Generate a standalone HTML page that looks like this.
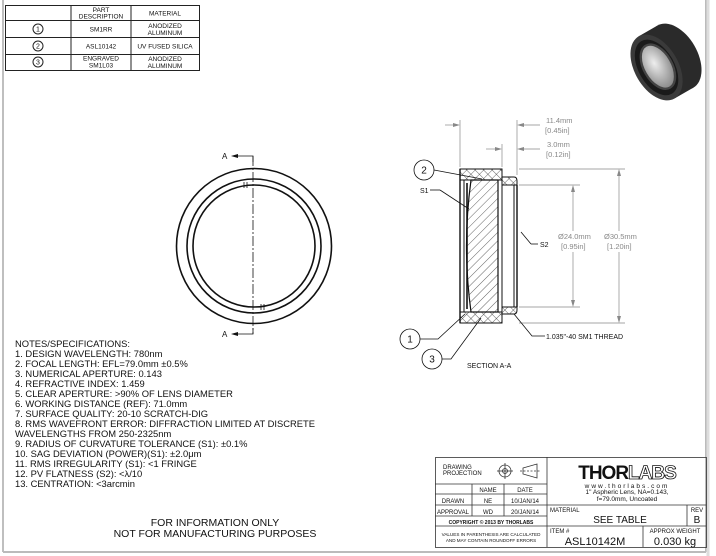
<!DOCTYPE html>
<html><head><meta charset="utf-8"><style>
html,body{margin:0;padding:0;background:#fff;width:716px;height:556px;overflow:hidden}
svg{display:block}
text{font-family:"Liberation Sans",sans-serif;fill:#111}
</style></head><body>
<svg width="716" height="556" viewBox="0 0 716 556" xmlns="http://www.w3.org/2000/svg">
<defs>
<pattern id="hatch" width="6" height="6" patternUnits="userSpaceOnUse" patternTransform="rotate(45)">
<line x1="0" y1="0" x2="0" y2="6" stroke="#222" stroke-width="0.7"/></pattern>
<pattern id="xh" width="6" height="6" patternUnits="userSpaceOnUse" patternTransform="rotate(45)">
<line x1="0" y1="0" x2="0" y2="6" stroke="#222" stroke-width="0.7"/><line x1="0" y1="0" x2="6" y2="0" stroke="#222" stroke-width="0.7"/></pattern>
<radialGradient id="rg" cx="0.45" cy="0.4" r="0.6"><stop offset="0" stop-color="#eee"/><stop offset="1" stop-color="#888"/></radialGradient>
</defs>
<rect x="0" y="0" width="716" height="556" fill="#fff"/>
<line x1="3" y1="0" x2="3" y2="552" stroke="#aaa" stroke-width="1.5"/>
<line x1="706" y1="0" x2="706" y2="552" stroke="#bbb" stroke-width="2"/>
<line x1="3" y1="552" x2="706" y2="552" stroke="#bbb" stroke-width="2"/>
<line x1="708" y1="0" x2="708" y2="556" stroke="#ddd" stroke-width="3"/>

<!-- parts table -->
<g stroke="#222" stroke-width="1" fill="none">
<rect x="5.5" y="5.5" width="194" height="65"/>
<line x1="71" y1="5" x2="71" y2="70"/><line x1="131" y1="5" x2="131" y2="70"/>
<line x1="5" y1="20.5" x2="199" y2="20.5"/><line x1="5" y1="37.5" x2="199" y2="37.5"/><line x1="5" y1="54.5" x2="199" y2="54.5"/>
<circle cx="38" cy="29" r="5"/><circle cx="38" cy="46" r="5"/><circle cx="38" cy="62" r="5"/>
</g>
<g font-size="6.5" text-anchor="middle">
<text x="101" y="12">PART</text><text x="101" y="18.5">DESCRIPTION</text><text x="165" y="15.5">MATERIAL</text>
<text x="38" y="31.5" font-size="7">1</text><text x="38" y="48.5" font-size="7">2</text><text x="38" y="64.5" font-size="7">3</text>
<text x="101" y="31.5">SM1RR</text><text x="165" y="28">ANODIZED</text><text x="165" y="35">ALUMINUM</text>
<text x="101" y="48.5">ASL10142</text><text x="165" y="48.5">UV FUSED SILICA</text>
<text x="101" y="60.5">ENGRAVED</text><text x="101" y="67.5">SM1L03</text><text x="165" y="61">ANODIZED</text><text x="165" y="68">ALUMINUM</text>
</g>

<!-- photo -->
<g transform="translate(666,62) rotate(-30) scale(0.78)">
<ellipse cx="14" cy="0" rx="28" ry="46" fill="#2a2a2a"/>
<rect x="-14" y="-46" width="28" height="92" fill="#2a2a2a"/>
<ellipse cx="-14" cy="0" rx="28" ry="46" fill="#3a3a3a"/>
<ellipse cx="-14" cy="0" rx="23" ry="39" fill="#1a1a1a"/>
<ellipse cx="-12" cy="0" rx="18" ry="31" fill="url(#rg)" stroke="#444" stroke-width="3"/>
</g>

<!-- front view -->
<g stroke="#111" stroke-width="1.6" fill="none">
<circle cx="254" cy="246" r="77.5"/>
<circle cx="254" cy="246" r="67"/>
<circle cx="254" cy="246" r="61"/>
</g>
<g stroke="#111" stroke-width="0.8" fill="none">
<line x1="244" y1="182" x2="244" y2="188"/><line x1="247" y1="182" x2="247" y2="188"/>
<line x1="261" y1="304" x2="261" y2="310"/><line x1="264" y1="304" x2="264" y2="310"/>
<line x1="253" y1="156" x2="253" y2="334" stroke-dasharray="10,2,2,2"/>
<polyline points="236,156 253,156 253,162"/><polyline points="236,334 253,334 253,328"/>
</g>
<polygon points="231,156 238,154 238,158" fill="#111"/><polygon points="231,334 238,332 238,336" fill="#111"/>
<text x="222" y="159" font-size="8">A</text><text x="222" y="337" font-size="8">A</text>

<!-- section view -->
<g stroke="#111" stroke-width="1" fill="none">
<rect x="460" y="169" width="42" height="11" fill="url(#xh)"/>
<rect x="460" y="312" width="42" height="11" fill="url(#xh)"/>
<path d="M502 177 H514 Q517 177 517 181 V185 H502 Z" fill="url(#xh)"/>
<path d="M502 314 H514 Q517 314 517 310 V307 H502 Z" fill="url(#xh)"/>
<line x1="460" y1="169" x2="460" y2="323" stroke-width="1.4"/>
<line x1="464" y1="180" x2="464" y2="312"/>
<line x1="467" y1="183" x2="467" y2="309" stroke-width="1.6"/>
<path d="M471 180 Q462 246 471 312 H498 V180 Z" fill="url(#hatch)" stroke-width="1.2"/>
<line x1="502" y1="180" x2="502" y2="312"/>
<line x1="502" y1="185" x2="517" y2="185"/><line x1="502" y1="307" x2="517" y2="307"/>
<line x1="517" y1="185" x2="517" y2="307" stroke-width="1.4"/>
<line x1="514" y1="185" x2="514" y2="307"/>
</g>
<!-- dimensions -->
<g stroke="#888" stroke-width="0.7" fill="none">
<line x1="460" y1="120" x2="460" y2="167"/><line x1="517" y1="120" x2="517" y2="175"/>
<line x1="445" y1="125" x2="458" y2="125"/><line x1="519" y1="125" x2="540" y2="125"/>
<line x1="502" y1="144" x2="502" y2="167"/>
<line x1="486" y1="149" x2="500" y2="149"/><line x1="519" y1="149" x2="540" y2="149"/>
<line x1="519" y1="169" x2="625" y2="169"/><line x1="519" y1="323" x2="625" y2="323"/>
<line x1="519" y1="185" x2="580" y2="185"/><line x1="519" y1="307" x2="580" y2="307"/>
<line x1="573" y1="187" x2="573" y2="231"/><line x1="573" y1="252" x2="573" y2="305"/>
<line x1="619" y1="171" x2="619" y2="231"/><line x1="619" y1="252" x2="619" y2="321"/>
</g>
<g fill="#888">
<polygon points="460,125 453,123 453,127"/><polygon points="517,125 524,123 524,127"/>
<polygon points="502,149 495,147 495,151"/><polygon points="517,149 524,147 524,151"/>
<polygon points="573,185 571,192 575,192"/><polygon points="573,307 571,300 575,300"/>
<polygon points="619,169 617,176 621,176"/><polygon points="619,323 617,316 621,316"/>
</g>
<g font-size="7.5">
<text x="546" y="123" style="fill:#888">11.4mm</text><text x="545" y="133" style="fill:#888">[0.45in]</text>
<text x="547" y="147" style="fill:#888">3.0mm</text><text x="546" y="157" style="fill:#888">[0.12in]</text>
<text x="558" y="239" style="fill:#888">Ø24.0mm</text><text x="561" y="249" style="fill:#888">[0.95in]</text>
<text x="604" y="239" style="fill:#888">Ø30.5mm</text><text x="607" y="249" style="fill:#888">[1.20in]</text>
</g>
<!-- leaders & balloons -->
<g stroke="#111" stroke-width="0.8" fill="none">
<circle cx="424" cy="170" r="10"/><circle cx="410" cy="339" r="10"/><circle cx="432" cy="359" r="10"/>
<line x1="434" y1="170" x2="482" y2="179"/>
<line x1="430" y1="190" x2="440" y2="190"/><line x1="440" y1="190" x2="469" y2="209"/>
<line x1="521" y1="232" x2="531" y2="244"/><line x1="531" y1="244" x2="538" y2="244"/>
<polyline points="420,339 438,339 465,314"/>
<polyline points="442,359 451,359 481,318"/>
<polyline points="514,314 532,336 545,336"/>
</g>
<text x="424" y="173.5" font-size="10" text-anchor="middle">2</text>
<text x="410" y="342.5" font-size="10" text-anchor="middle">1</text>
<text x="432" y="362.5" font-size="10" text-anchor="middle">3</text>
<text x="420" y="193" font-size="7">S1</text>
<text x="540" y="247" font-size="7">S2</text>
<text x="546" y="339" font-size="7">1.035"-40 SM1 THREAD</text>
<text x="467" y="368" font-size="7">SECTION A-A</text>

<!-- notes -->
<g font-size="9.4">
<text x="15" y="347">NOTES/SPECIFICATIONS:</text>
<text x="15" y="357">1.  DESIGN WAVELENGTH: 780nm</text>
<text x="15" y="367">2. FOCAL LENGTH: EFL=79.0mm ±0.5%</text>
<text x="15" y="377">3. NUMERICAL APERTURE: 0.143</text>
<text x="15" y="387">4. REFRACTIVE INDEX: 1.459</text>
<text x="15" y="397">5. CLEAR APERTURE: &gt;90% OF LENS DIAMETER</text>
<text x="15" y="407">6. WORKING DISTANCE (REF): 71.0mm</text>
<text x="15" y="417">7. SURFACE QUALITY: 20-10 SCRATCH-DIG</text>
<text x="15" y="427">8. RMS WAVEFRONT ERROR: DIFFRACTION LIMITED AT DISCRETE</text>
<text x="15" y="437">WAVELENGTHS FROM 250-2325nm</text>
<text x="15" y="447">9. RADIUS OF CURVATURE TOLERANCE (S1): ±0.1%</text>
<text x="15" y="457">10. SAG DEVIATION (POWER)(S1): ±2.0μm</text>
<text x="15" y="467">11. RMS IRREGULARITY (S1): &lt;1 FRINGE</text>
<text x="15" y="477">12. PV FLATNESS (S2):  &lt;λ/10</text>
<text x="15" y="487">13. CENTRATION: &lt;3arcmin</text>
</g>
<text x="215" y="526" font-size="10.5" text-anchor="middle">FOR INFORMATION ONLY</text>
<text x="215" y="537" font-size="10.5" text-anchor="middle">NOT FOR MANUFACTURING PURPOSES</text>

<!-- title block -->
<g stroke="#333" stroke-width="0.8" fill="none">
<rect x="435.5" y="457.5" width="271" height="90"/>
<line x1="547" y1="457" x2="547" y2="547"/>
<line x1="435" y1="484" x2="547" y2="484"/>
<line x1="435" y1="494" x2="547" y2="494"/>
<line x1="435" y1="505" x2="706" y2="505"/>
<line x1="435" y1="516" x2="547" y2="516"/>
<line x1="435" y1="526" x2="706" y2="526"/>
<line x1="472" y1="484" x2="472" y2="516"/>
<line x1="504" y1="484" x2="504" y2="516"/>
<line x1="687" y1="505" x2="687" y2="526"/>
<line x1="643" y1="526" x2="643" y2="547"/>
<circle cx="505" cy="471" r="6"/><circle cx="505" cy="471" r="2.5"/>
<line x1="497" y1="471" x2="513" y2="471"/><line x1="505" y1="463" x2="505" y2="479"/>
<path d="M523 468 L537 464 V478 L523 474 Z"/><line x1="520" y1="471" x2="540" y2="471" stroke-dasharray="2,1.5"/>
</g>
<g font-size="6" text-anchor="middle">
<text x="443" y="469" text-anchor="start">DRAWING</text><text x="443" y="475" text-anchor="start">PROJECTION</text>
<text x="488" y="492">NAME</text><text x="525" y="492">DATE</text>
<text x="453" y="503">DRAWN</text><text x="488" y="503">NE</text><text x="525" y="503">10/JAN/14</text>
<text x="453" y="514">APPROVAL</text><text x="488" y="514">WD</text><text x="525" y="514">20/JAN/14</text>
<text x="491" y="524" font-size="5" font-weight="bold">COPYRIGHT © 2013 BY THORLABS</text>
<text x="491" y="536" font-size="4.6">VALUES IN PARENTHESIS ARE CALCULATED</text>
<text x="491" y="542" font-size="4.6">AND MAY CONTAIN ROUNDOFF ERRORS</text>
</g>
<text x="627" y="479" font-size="19" font-weight="bold" text-anchor="middle" letter-spacing="-1">THOR<tspan style="fill:#fff;stroke:#111;stroke-width:0.8">LABS</tspan></text>
<text x="627" y="488" font-size="6.5" text-anchor="middle" letter-spacing="2">www.thorlabs.com</text>
<text x="627" y="494" font-size="6.5" text-anchor="middle">1" Aspheric Lens, NA=0.143,</text>
<text x="627" y="501" font-size="6.5" text-anchor="middle">f=79.0mm, Uncoated</text>
<text x="550" y="512" font-size="6">MATERIAL</text>
<text x="620" y="523" font-size="10" text-anchor="middle">SEE TABLE</text>
<text x="697" y="512" font-size="6" text-anchor="middle">REV</text>
<text x="697" y="523" font-size="10" text-anchor="middle">B</text>
<text x="550" y="533" font-size="6">ITEM #</text>
<text x="595" y="545" font-size="11" text-anchor="middle">ASL10142M</text>
<text x="675" y="533" font-size="6" text-anchor="middle">APPROX WEIGHT</text>
<text x="675" y="545" font-size="11" text-anchor="middle">0.030 kg</text>
</svg>
</body></html>
